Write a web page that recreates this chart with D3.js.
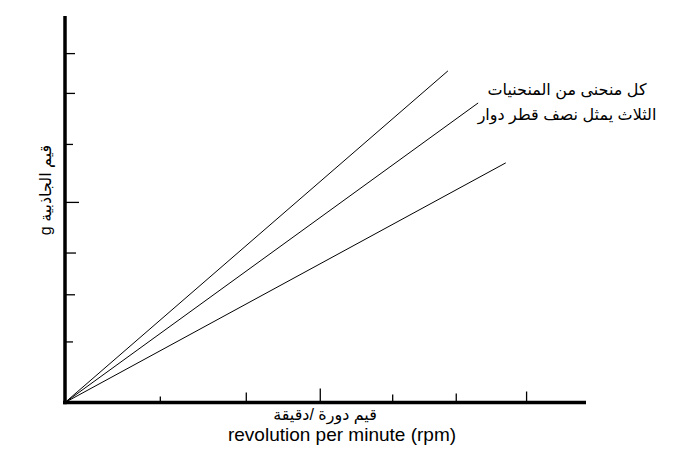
<!DOCTYPE html>
<html>
<head>
<meta charset="utf-8">
<script src="https://cdn.jsdelivr.net/npm/d3@7"></script>
<style>
  html, body { margin: 0; padding: 0; background: #fff; }
  svg { display: block; }
  text { font-family: "Liberation Sans", Arial, "DejaVu Sans", sans-serif; fill: #000; }
</style>
</head>
<body>
<svg id="chart" width="692" height="465"></svg>
<script>
// ---- data (unitless) ----
const seriesNames = ["radius A", "radius B", "radius C"];
const seriesEndX  = [73.5, 79.3, 84.6];   // rpm (relative)
const seriesEndY  = [85.8, 77.5, 62.0];   // g (relative)
const xTickValues = [18.2, 34.7, 48.9, 62.8, 75.0, 88.5];
const yTickValues = [15.8, 28.0, 38.8, 51.9, 66.9, 80.1, 90.4];
const xDomain = [0, 100];
const yDomain = [0, 100];
const yLabelText  = "قيم الجاذبية g";
const xLabelArabic = "قيم دورة /دقيقة";
const xLabelEnglish = "revolution per minute (rpm)";
const noteLines = ["كل منحنى من المنحنيات", "الثلاث يمثل نصف قطر دوار"];

// ---- drawing ----
const svg = d3.select("#chart");
const x = d3.scaleLinear().domain(xDomain).range([65, 586]);
const y = d3.scaleLinear().domain(yDomain).range([402.5, 16]);

// hand-drawn tick lengths (style)
const xTickLen = [6, 10, 14, 8, 9, 11];
const yTickLen = [8, 10, 11, 14, 8, 10, 10];

// lines from origin
const lineGen = d3.line().x(d => x(d[0])).y(d => y(d[1]));
const series = seriesNames.map((n, i) => ({ name: n, pts: [[0, 0], [seriesEndX[i], seriesEndY[i]]] }));
svg.append("g").selectAll("path").data(series).join("path")
  .attr("d", d => lineGen(d.pts))
  .attr("fill", "none").attr("stroke", "#000").attr("stroke-width", 1);

// x axis (ticks pointing up)
const xAxis = svg.append("g").attr("transform", `translate(0,${y(0)})`)
  .call(d3.axisTop(x).tickValues(xTickValues).tickSize(9).tickFormat(""));
xAxis.select(".domain").attr("d", `M${x(0) - 2},0H${x(xDomain[1])}`).attr("stroke", "#000").attr("stroke-width", 3.5);
xAxis.selectAll(".tick line").attr("stroke", "#000").attr("stroke-width", 1.3)
  .attr("y2", (d, i) => -xTickLen[i]);

// y axis (ticks pointing right)
const yAxis = svg.append("g").attr("transform", `translate(${x(0)},0)`)
  .call(d3.axisRight(y).tickValues(yTickValues).tickSize(10).tickFormat(""));
yAxis.select(".domain").attr("d", `M0,${y(0) + 1.7}V${y(yDomain[1])}`).attr("stroke", "#000").attr("stroke-width", 3.5);
yAxis.selectAll(".tick line").attr("stroke", "#000").attr("stroke-width", 1.3)
  .attr("x2", (d, i) => yTickLen[i]);

// y label
svg.append("text")
  .attr("transform", "translate(51,190) rotate(-90)")
  .attr("text-anchor", "middle")
  .attr("direction", "rtl")
  .style("font-size", "16px")
  .text(yLabelText);

// x labels
svg.append("text")
  .attr("x", 325).attr("y", 420)
  .attr("text-anchor", "middle")
  .attr("direction", "rtl")
  .style("font-size", "16px")
  .text(xLabelArabic);
svg.append("text")
  .attr("x", 342).attr("y", 441)
  .attr("text-anchor", "middle")
  .style("font-size", "19px")
  .text(xLabelEnglish);

// note
svg.append("g").selectAll("text").data(noteLines).join("text")
  .attr("x", 567).attr("y", (d, i) => 95 + i * 25)
  .attr("text-anchor", "middle")
  .attr("direction", "rtl")
  .style("font-size", "16px")
  .text(d => d);
</script>
</body>
</html>
